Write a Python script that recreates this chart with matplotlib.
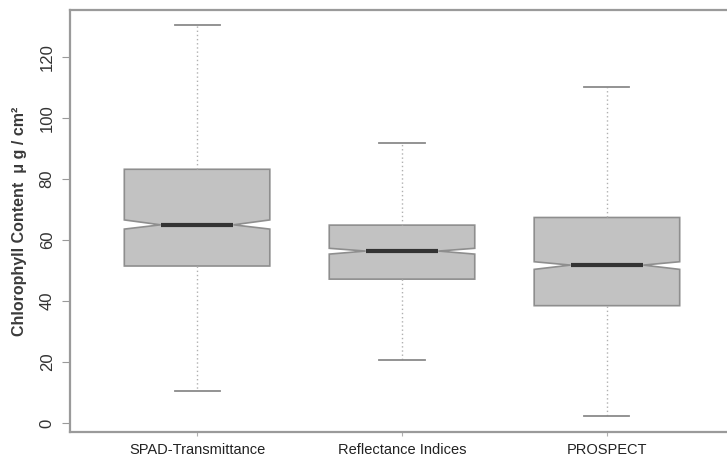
import matplotlib
matplotlib.use("Agg")
import matplotlib.pyplot as plt

plt.rcParams['font.family'] = ['Liberation Sans', 'DejaVu Sans']

# values (ug/cm2)
methods = ['SPAD-Transmittance', 'Reflectance Indices', 'PROSPECT']
whisker_lo = [10.5, 20.8, 2.4]
q1 = [51.5, 47.2, 38.5]
medians = [65.0, 56.4, 51.8]
q3 = [83.2, 64.9, 67.4]
whisker_hi = [130.5, 91.7, 110.2]
notch_lo = [63.6, 55.4, 50.4]
notch_hi = [66.6, 57.3, 52.9]

stats = []
for i in range(len(methods)):
    stats.append(dict(label=methods[i], whislo=whisker_lo[i], q1=q1[i], med=medians[i],
                      q3=q3[i], whishi=whisker_hi[i], cilo=notch_lo[i], cihi=notch_hi[i],
                      fliers=[]))

fig = plt.figure(figsize=(7.27, 4.62), dpi=100)
# R style plot region, right edge runs past the picture
ax = fig.add_axes([70 / 727, 30 / 462, 664 / 727, 422 / 462])

ax.bxp(stats, positions=[1, 2, 3], widths=0.71, shownotches=True, patch_artist=True,
       showfliers=False, capwidths=0.22,
       boxprops=dict(facecolor='#c2c2c2', edgecolor='#8e8e8e', linewidth=1.2),
       medianprops=dict(color='#333333', linewidth=3),
       whiskerprops=dict(color='#b0b0b0', linewidth=1, linestyle=(0, (1, 2))),
       capprops=dict(color='#8a8a8a', linewidth=1.3))

ax.set_xlim(0.38, 3.62)
ax.set_ylim(-2.9, 135.4)
ax.set_yticks([0, 20, 40, 60, 80, 100, 120])
ax.set_yticklabels(['0', '20', '40', '60', '80', '100', '120'], rotation=90, va='center')
ax.set_ylabel('Chlorophyll Content  μ g / cm²', fontsize=11.5, fontweight='bold',
              color='#3a3a3a', labelpad=9)

for s in ax.spines.values():
    s.set_color('#9a9a9a')
    s.set_linewidth(1.6)
ax.tick_params(axis='y', length=6, color='#9a9a9a', labelsize=12, labelcolor='#333333', pad=5)
ax.tick_params(axis='x', length=3, color='#b0b0b0', labelsize=10.5, labelcolor='#222222', pad=5)

fig.savefig('out.png', dpi=100)
